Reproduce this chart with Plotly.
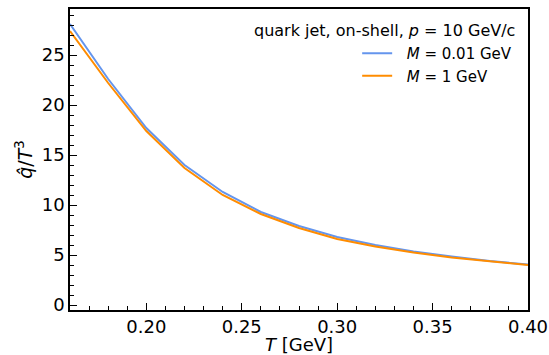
import plotly.graph_objects as go

T = [0.16, 0.18, 0.20, 0.22, 0.24, 0.26, 0.28, 0.30, 0.32, 0.34, 0.36, 0.38, 0.40]
qhat_m001 = [28.1, 22.6, 17.7, 14.0, 11.3, 9.3, 7.9, 6.8, 6.0, 5.35, 4.85, 4.4, 4.05]
qhat_m1 = [27.4, 22.2, 17.4, 13.7, 11.0, 9.1, 7.7, 6.6, 5.85, 5.25, 4.75, 4.35, 4.0]
labels = ["\u00a0\u00a0<i>M</i> = 0.01 GeV", "\u00a0\u00a0<i>M</i> = 1 GeV"]
colors = ["#6495ED", "#FF8C00"]
xticks = [0.20, 0.25, 0.30, 0.35, 0.40]
xticktext = ["0.20", "0.25", "0.30", "0.35", "0.40"]
yticks = [0, 5, 10, 15, 20, 25]
legend_title = "quark jet, on-shell, <i>p</i> = 10 GeV/c"

FONT = "DejaVu Sans"

fig = go.Figure()
for ys, lab, col in zip([qhat_m001, qhat_m1], labels, colors):
    fig.add_trace(go.Scatter(x=T, y=ys, mode="lines", name=lab,
                             line=dict(color=col, width=2)))

axis_common = dict(
    showline=True, linecolor="black", linewidth=1.5, mirror=True,
    ticks="inside", ticklen=7, tickwidth=1.3, tickcolor="black",
    showgrid=False, zeroline=False, automargin=False,
    tickfont=dict(family=FONT, size=18, color="black"),
)

fig.update_xaxes(range=[0.16, 0.40], tickvals=xticks, ticktext=xticktext,
                 minor=dict(dtick=0.01, tick0=0.0, ticks="inside", ticklen=4, tickwidth=1, tickcolor="black"),
                 title=dict(text="<i>T</i> [GeV]", font=dict(family=FONT, size=18, color="black")),
                 **axis_common)
fig.update_yaxes(range=[-0.5, 29.6], tickvals=yticks,
                 minor=dict(dtick=1, tick0=0, ticks="inside", ticklen=4, tickwidth=1, tickcolor="black"),
                 title=dict(text="<i>q̂</i>/<i>T</i><sup>3</sup>", font=dict(family=FONT, size=19, color="black"), standoff=4),
                 **axis_common)

fig.add_annotation(text=legend_title, xref="paper", yref="paper", x=0.975, y=0.93,
                   xanchor="right", yanchor="middle", showarrow=False,
                   font=dict(family=FONT, size=16, color="black"))

fig.update_layout(
    width=549, height=355,
    margin=dict(l=70, r=21, t=9, b=45),
    paper_bgcolor="white", plot_bgcolor="white",
    font=dict(family=FONT, color="black"),
    legend=dict(x=0.627, y=0.907, xanchor="left", yanchor="top",
                bgcolor="rgba(0,0,0,0)", font=dict(family=FONT, size=15, color="black")),
)

fig.write_html("out.html")
